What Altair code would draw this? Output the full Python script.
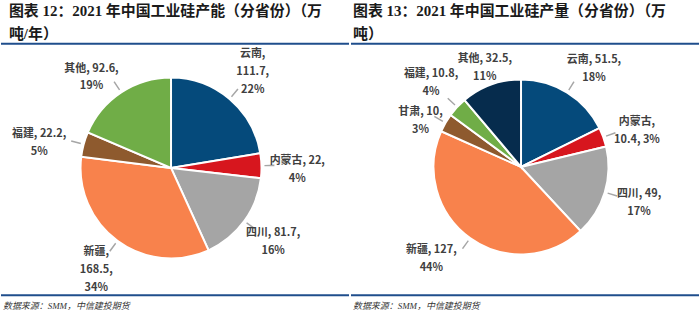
import altair as alt
import pandas as pd

# ---- data ----
left_names = ["云南", "内蒙古", "四川", "新疆", "福建", "其他"]
left_values = [111.7, 22, 81.7, 168.5, 22.2, 92.6]
left_labels = ["云南,\n111.7,\n22%", "内蒙古, 22,\n4%", "四川, 81.7,\n16%",
               "新疆,\n168.5,\n34%", "福建, 22.2,\n5%", "其他, 92.6,\n19%"]
left_colors = ["#054A7B", "#D7161E", "#A5A5A5", "#F8824C", "#8E5A2E", "#70AD47"]
left_title = "图表 12：2021 年中国工业硅产能（分省份）（万\n吨/年）"

right_names = ["云南", "内蒙古", "四川", "新疆", "甘肃", "福建", "其他"]
right_values = [51.5, 10.4, 49, 127, 10, 10.8, 32.5]
right_labels = ["云南, 51.5,\n18%", "内蒙古,\n10.4, 3%", "四川, 49,\n17%",
                "新疆, 127,\n44%", "甘肃, 10,\n3%", "福建, 10.8,\n4%", "其他, 32.5,\n11%"]
right_colors = ["#054A7B", "#D7161E", "#A5A5A5", "#F8824C", "#8E5A2E", "#70AD47", "#062C4D"]
right_title = "图表 13：2021 年中国工业硅产量（分省份）（万\n吨）"

source_text = "数据来源：SMM，中信建投期货"

# ---- styling / layout (not data) ----
LINE_COLOR = "#1F4E8C"
FONT_SANS = "Noto Sans CJK SC"
FONT_SERIF = "Liberation Serif, Noto Sans CJK SC"
LINE_H = 18

# label nudges (dx, dy) in pixels, mimicking Excel's label placement
left_nudge = {"内蒙古": (0, 5), "福建": (-10, 8), "其他": (-10, 15)}
right_nudge = {"云南": (8, 7), "内蒙古": (0, 6), "新疆": (-18, -8),
               "甘肃": (6, 16), "其他": (0, 0)}
right_label_radius = {"其他": 106}
right_no_leader = ["其他"]


def panel(names, values, labels, colors, title, cx, cy, r, lr, tx, sx,
          nudge, radius_override=None, no_leader=()):
    radius_override = radius_override or {}
    total = sum(values)
    cum = 0.0
    rows = []
    for i, (n, v, l) in enumerate(zip(names, values, labels)):
        mid = cum + v / 2
        rows.append(dict(i=i, name=n, v=v, label=l, mid=mid,
                         t0=mid - total * 0.0012, t1=mid + total * 0.0012))
        cum += v
    df = pd.DataFrame(rows)
    base = alt.Chart(df)

    pie = base.mark_arc(outerRadius=r, stroke="white", strokeWidth=2).encode(
        theta=alt.Theta("v:Q", stack=True),
        color=alt.Color("name:N", scale=alt.Scale(domain=names, range=colors), legend=None),
        order=alt.Order("i:Q"),
        x=alt.value(cx), y=alt.value(cy),
    )
    leader_names = [n for n in names if n not in no_leader]
    ticks = base.transform_filter(
        alt.FieldOneOfPredicate(field="name", oneOf=leader_names)
    ).mark_arc(radius=r + 13, radius2=r + 3, color="#A6A6A6").encode(
        theta=alt.Theta("t0:Q"), theta2="t1:Q",
        x=alt.value(cx), y=alt.value(cy),
    )
    text_layers = []
    for n, l in zip(names, labels):
        nl = l.count("\n") + 1
        ndx, ndy = nudge.get(n, (0, 0))
        text_layers.append(
            base.transform_filter(alt.datum.name == n).mark_text(
                radius=radius_override.get(n, lr), lineBreak="\n", lineHeight=LINE_H,
                font=FONT_SANS, fontSize=11, fontWeight="bold", color="#404040",
                baseline="middle", dx=ndx, dy=-(nl - 1) * LINE_H / 2 + ndy).encode(
                theta=alt.Theta("mid:Q"),
                text="label:N",
                x=alt.value(cx), y=alt.value(cy),
            )
        )
    ttl = alt.Chart(pd.DataFrame({"t": [title]})).mark_text(
        align="left", baseline="top", lineBreak="\n", lineHeight=23,
        font=FONT_SERIF, fontSize=15, fontWeight="bold", color="#1A1A1A"
    ).encode(text="t:N", x=alt.value(tx), y=alt.value(3))
    src = alt.Chart(pd.DataFrame({"t": [source_text]})).mark_text(
        align="left", baseline="middle", font=FONT_SERIF, fontSize=9,
        fontStyle="italic", color="#333333"
    ).encode(text="t:N", x=alt.value(sx), y=alt.value(307))
    top_line = alt.Chart(pd.DataFrame({"a": [0]})).mark_rule(
        color=LINE_COLOR, strokeWidth=2).encode(
        x=alt.value(0), x2=alt.value(350), y=alt.value(43))
    bot_line = alt.Chart(pd.DataFrame({"a": [0]})).mark_rule(
        color=LINE_COLOR, strokeWidth=2).encode(
        x=alt.value(0), x2=alt.value(350), y=alt.value(296))

    return alt.layer(pie, ticks, *text_layers, ttl, src, top_line, bot_line).properties(
        width=350, height=321)


left = panel(left_names, left_values, left_labels, left_colors, left_title,
             171, 168, 91, 127, 8, 2, left_nudge)
right = panel(right_names, right_values, right_labels, right_colors, right_title,
              171, 167, 88, 124, 2, 2, right_nudge, right_label_radius, right_no_leader)

chart = alt.hconcat(left, right, spacing=0).resolve_scale(
    color="independent", theta="independent"
).properties(padding=0, background="white").configure_view(stroke=None)

chart.save("out.html", embed_options={"renderer": "svg", "actions": False})
